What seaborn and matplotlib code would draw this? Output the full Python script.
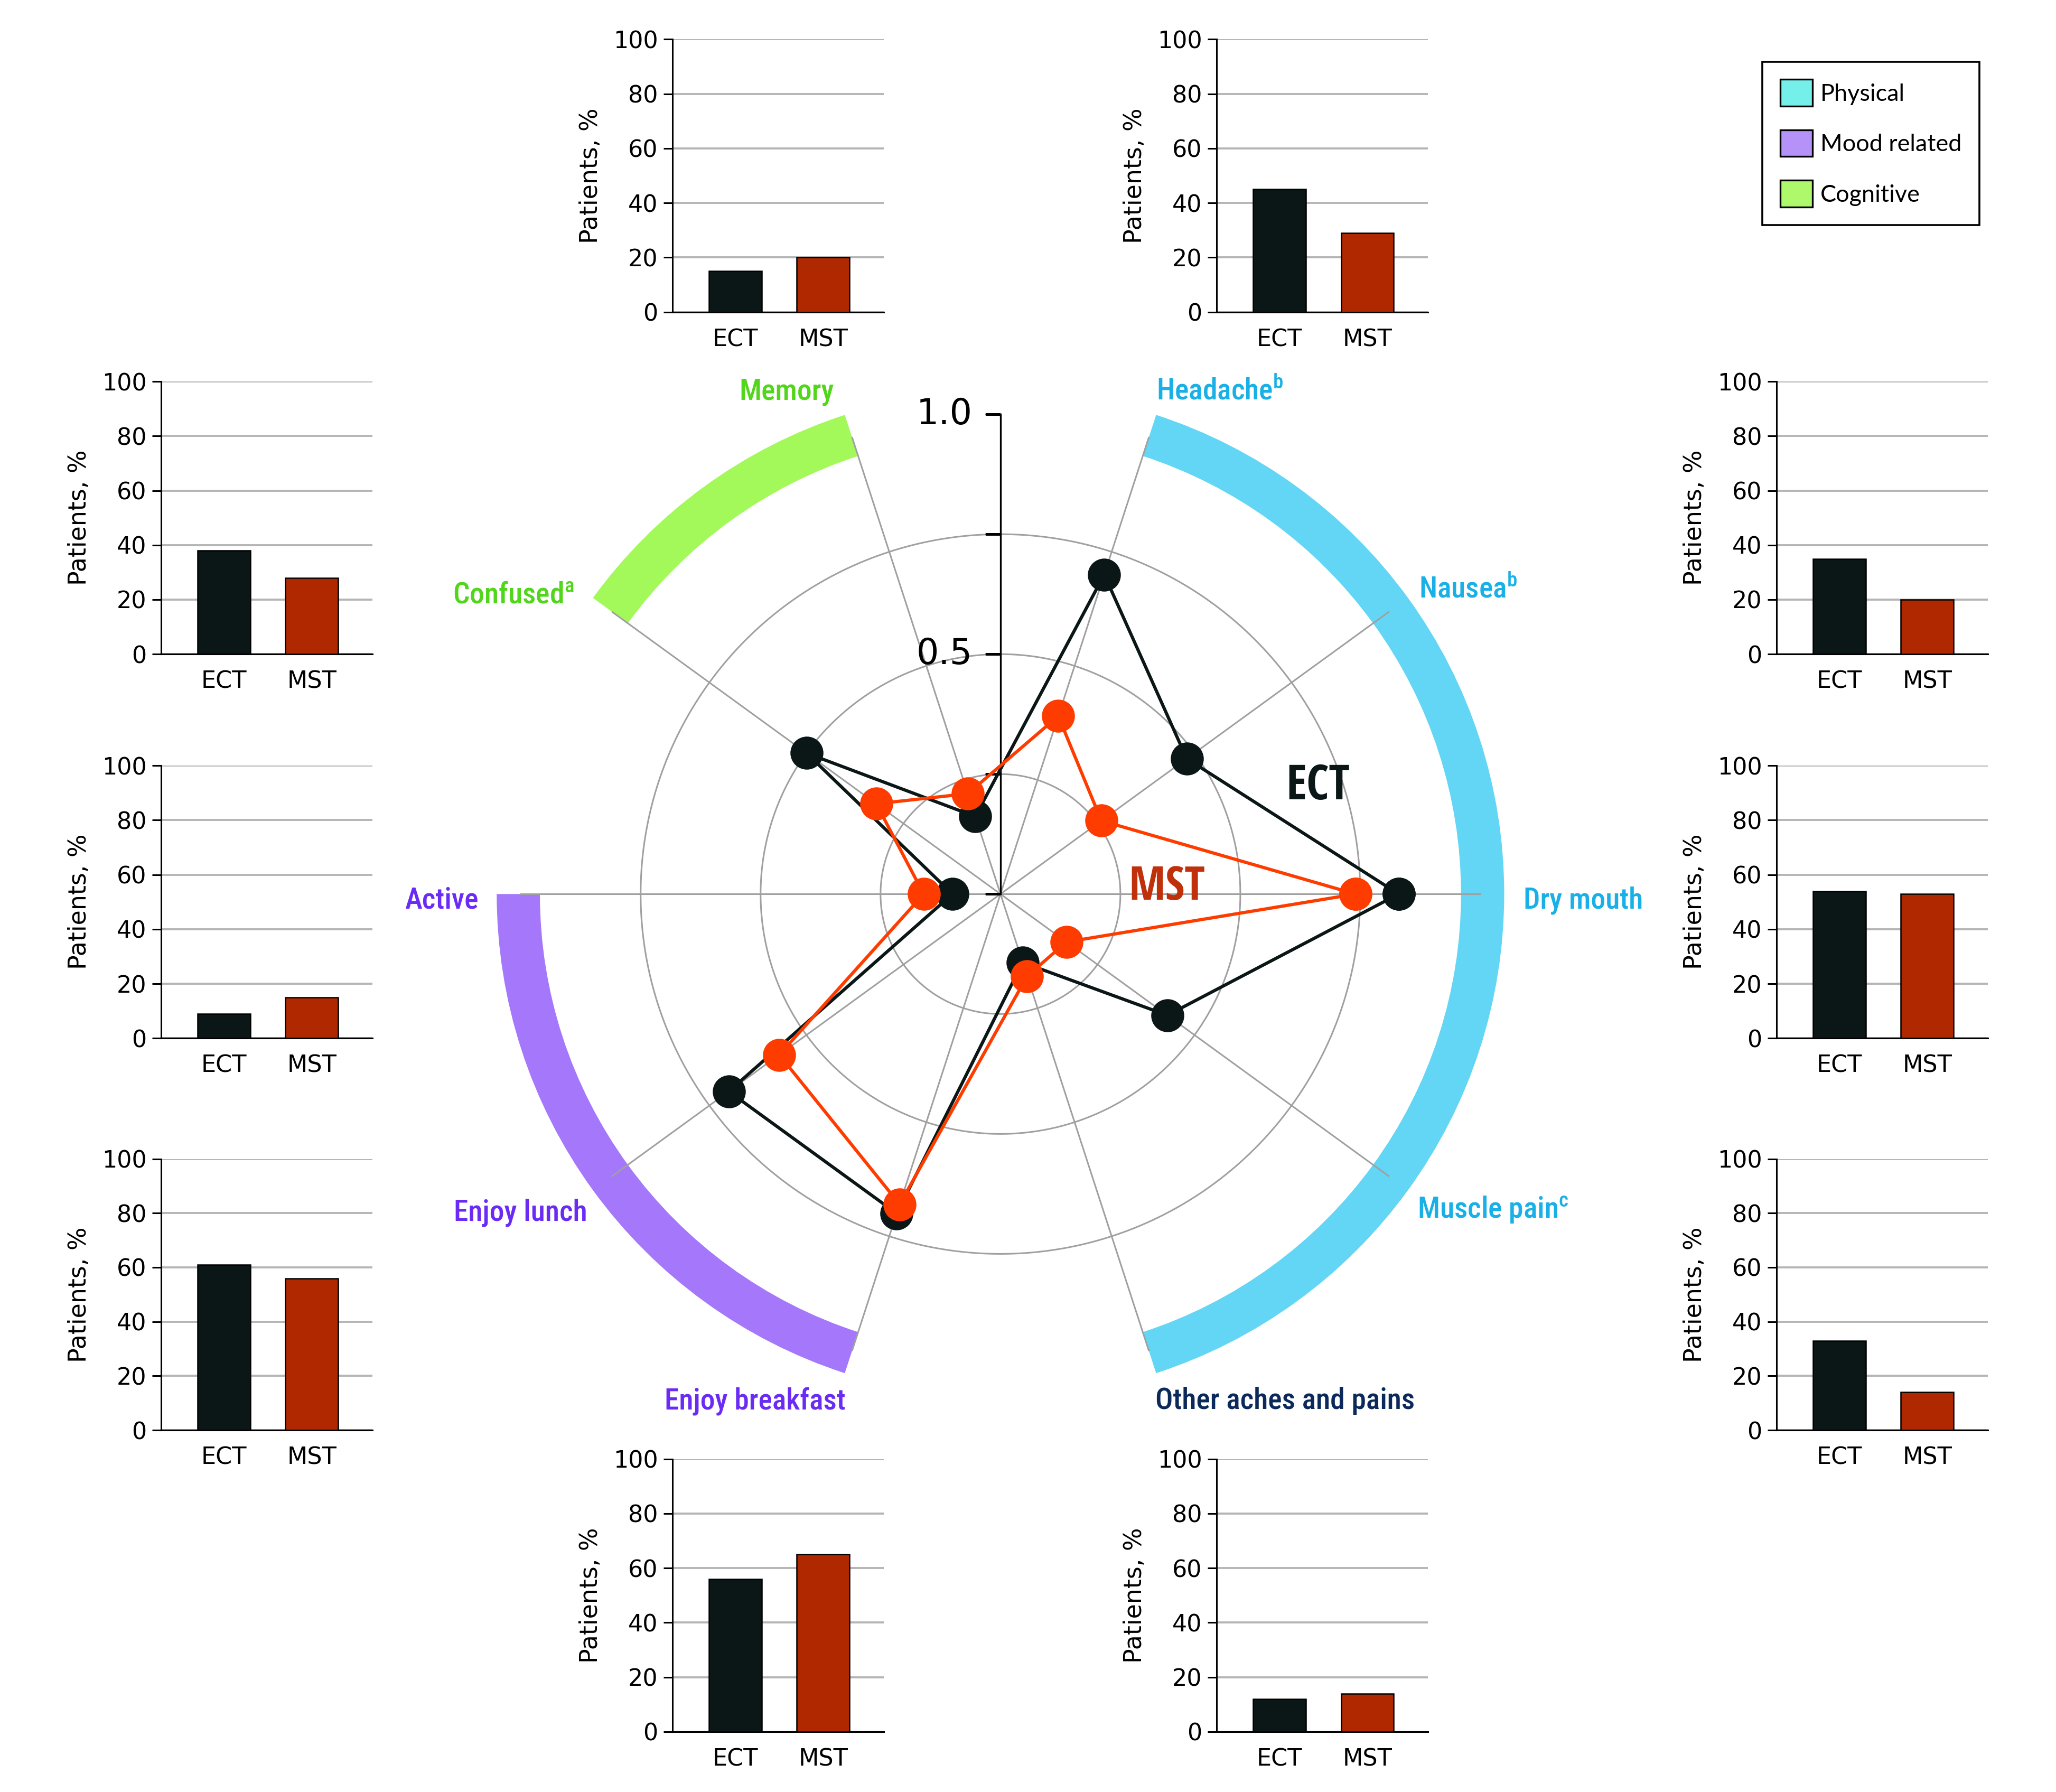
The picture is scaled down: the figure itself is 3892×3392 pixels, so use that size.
import numpy as np
import pandas as pd
import matplotlib
matplotlib.use("Agg")
import matplotlib.pyplot as plt
from matplotlib import font_manager
from matplotlib.font_manager import FontProperties
from matplotlib.patches import Patch
import matplotlib.markers as mmarkers
import seaborn as sns

# ---------------- data ----------------
categories = ["Dry mouth", "Nausea", "Headache", "Memory", "Confused", "Active",
              "Enjoy lunch", "Enjoy breakfast", "Other aches and pains", "Muscle pain"]
label_texts = ["Dry mouth", r"Nausea$^\mathregular{b}$", r"Headache$^\mathregular{b}$", "Memory",
               r"Confused$^\mathregular{a}$", "Active", "Enjoy lunch", "Enjoy breakfast",
               "Other aches and pains", r"Muscle pain$^\mathregular{c}$"]
domains = ["Physical", "Physical", "Physical", "Cognitive", "Cognitive", "Mood related",
           "Mood related", "Mood related", "Physical", "Physical"]
ect_radar = [0.83, 0.48, 0.70, 0.17, 0.50, 0.10, 0.70, 0.70, 0.15, 0.43]
mst_radar = [0.74, 0.26, 0.39, 0.22, 0.32, 0.16, 0.57, 0.68, 0.18, 0.17]
ect_pct = [54, 35, 45, 15, 38, 9, 61, 56, 12, 33]
mst_pct = [53, 20, 29, 20, 28, 15, 56, 65, 14, 14]
groups = ["ECT", "MST"]
legend_labels = ["Physical", "Mood related", "Cognitive"]
radial_ticks = [0, 0.25, 0.5, 0.75, 1.0]
radial_ticklabels = {0.5: "0.5", 1.0: "1.0"}
bar_yticks = [0, 20, 40, 60, 80, 100]

# ---------------- styles ----------------
ECT_COLOR = "#0a1716"
MST_LINE = "#ff3c00"
MST_BAR = "#b02800"
band_colors = {"Physical": "#62d6f4", "Mood related": "#a577fb", "Cognitive": "#a3f95a"}
legend_colors = {"Physical": "#74efe9", "Mood related": "#b592f8", "Cognitive": "#adf96b"}
label_colors = {"Physical": "#18b0e6", "Mood related": "#6a2cf5", "Cognitive": "#52d61c"}
OTHER_COLOR = "#0b2a5b"
GRAY = "#a0a0a0"

W, H = 1568.0, 1367.0   # reference layout units
DPI = 200


def pick_cond_font(weights):
    pref = ["Noto Sans", "Open Sans", "Roboto", "DejaVu Sans", "Liberation Sans Narrow", "Lato", "Inter"]
    best = None
    for f in font_manager.fontManager.ttflist:
        nm = f.name
        fn = f.fname.lower()
        st = f.stretch
        cond = ("condensed" in str(st)) or ("narrow" in nm.lower()) or ("condensed" in nm.lower()) \
            or ("condensed" in fn) or ("narrow" in fn) or (isinstance(st, (int, float)) and st <= 87)
        if not cond or f.style != "normal" or "italic" in fn:
            continue
        if "extra" in str(st) or "extra" in fn or "ultra" in fn or "semicondensed" in fn:
            continue
        w = f.weight
        if isinstance(w, str):
            w = font_manager.weight_dict.get(w, 400)
        if w not in weights:
            continue
        fam_rank = len(pref)
        for i, p in enumerate(pref):
            if nm.startswith(p) or p.replace(" ", "").lower() in fn.replace("-", "").replace("_", ""):
                fam_rank = i
                break
        score = (fam_rank, weights.index(w))
        if best is None or score < best[0]:
            best = (score, f.fname)
    return best[1] if best else None


f_med = pick_cond_font([500, 400])
f_bold = pick_cond_font([600, 500, 700])


def fp(fname, size, fallback_weight="normal"):
    if fname:
        return FontProperties(fname=fname, size=size)
    return FontProperties(family="Noto Sans", size=size, weight=fallback_weight, stretch="condensed")


fig = plt.figure(figsize=(3892 / DPI, 3392 / DPI), dpi=DPI)


def rect(l, t, r, b):
    return [l / W, 1 - b / H, (r - l) / W, (b - t) / H]


# ---------------- radar (polar) ----------------
cx, cy, R1, RMAX = 763.0, 682.0, 366.0, 1.07
n = len(categories)
theta = np.arange(n) * 2 * np.pi / n
axr = fig.add_axes(rect(cx - R1 * RMAX, cy - R1 * RMAX, cx + R1 * RMAX, cy + R1 * RMAX), projection="polar")
axr.patch.set_alpha(0)
axr.spines["polar"].set_visible(False)
axr.grid(False)

# group bands
band_spans = [("Physical", "Other aches and pains", "Headache"),
              ("Cognitive", "Memory", "Confused"),
              ("Mood related", "Active", "Enjoy breakfast")]
for dom, a, b in band_spans:
    t0 = theta[categories.index(a)]
    t1 = theta[categories.index(b)]
    span = (t1 - t0) % (2 * np.pi)
    axr.bar(t0 + span / 2, 0.09, width=span, bottom=0.96, color=band_colors[dom],
            linewidth=0, align="center", zorder=1)

# grid circles and spokes
tt = np.linspace(0, 2 * np.pi, 721)
for r in [0.25, 0.5, 0.75]:
    axr.plot(tt, np.full_like(tt, r), color=GRAY, lw=1.1, zorder=2)
for t in theta:
    axr.plot([t, t], [0, 1.0], color=GRAY, lw=1.1, zorder=2)

# radial axis
axr.plot([np.pi / 2, np.pi / 2], [0, 1.0], color="black", lw=1.2, zorder=3)
axr.plot(np.full(len(radial_ticks), np.pi / 2), radial_ticks, ls="none",
         marker=mmarkers.TICKLEFT, ms=10.5, mew=1.2, color="black", zorder=3)
for v, s in radial_ticklabels.items():
    axr.annotate(s, xy=(np.pi / 2, v), xytext=(-19, 0), textcoords="offset points",
                 ha="right", va="center", fontsize=24, family="DejaVu Sans", zorder=4)

# series
tc = np.append(theta, theta[0])
axr.plot(tc, np.append(ect_radar, ect_radar[0]), color=ECT_COLOR, lw=2.2, marker="o",
         ms=21.5, mfc=ECT_COLOR, mec=ECT_COLOR, zorder=5)
axr.plot(tc, np.append(mst_radar, mst_radar[0]), color=MST_LINE, lw=2.2, marker="o",
         ms=21.5, mfc=MST_LINE, mec=MST_LINE, zorder=6)
axr.set_xticks([])
axr.set_yticks([])
axr.set_ylim(0, RMAX)

fig.text(1005 / W, 1 - 600 / H, "ECT", color=ECT_COLOR, ha="center", va="center",
         fontproperties=fp(f_bold, 33, "semibold"))
fig.text(890 / W, 1 - 677 / H, "MST", color="#c0300a", ha="center", va="center",
         fontproperties=fp(f_bold, 32, "semibold"))

# category labels (x, baseline y, ha)
label_pos = {
    "Memory": (636, 305, "right"),
    "Headache": (882, 305, "left"),
    "Nausea": (1082, 456, "left"),
    "Dry mouth": (1162, 693, "left"),
    "Muscle pain": (1081, 929, "left"),
    "Other aches and pains": (881, 1075, "left"),
    "Enjoy breakfast": (645, 1075, "right"),
    "Enjoy lunch": (448, 931, "right"),
    "Active": (365, 693, "right"),
    "Confused": (438, 460, "right"),
}
for cat, txt, dom in zip(categories, label_texts, domains):
    x, y, ha = label_pos[cat]
    col = OTHER_COLOR if cat == "Other aches and pains" else label_colors[dom]
    fig.text(x / W, 1 - y / H, txt, color=col, ha=ha, va="baseline",
             fontproperties=fp(f_med, 20))

# ---------------- bar charts ----------------
bar_axes = {
    "Memory": (513, 30, 674, 238),
    "Headache": (928, 30, 1089, 238),
    "Confused": (123, 291, 284, 499),
    "Active": (123, 584, 284, 792),
    "Enjoy lunch": (123, 884, 284, 1091),
    "Enjoy breakfast": (513, 1113, 674, 1321),
    "Other aches and pains": (928, 1113, 1089, 1321),
    "Nausea": (1355, 291, 1516, 499),
    "Dry mouth": (1355, 584, 1516, 792),
    "Muscle pain": (1355, 884, 1516, 1091),
}
palette = {"ECT": ECT_COLOR, "MST": MST_BAR}
for i, cat in enumerate(categories):
    ax = fig.add_axes(rect(*bar_axes[cat]))
    df = pd.DataFrame({"group": groups, "pct": [ect_pct[i], mst_pct[i]]})
    sns.barplot(data=df, x="group", y="pct", hue="group", palette=palette, width=0.6,
                saturation=1, edgecolor="black", linewidth=0.9, legend=False, ax=ax, zorder=3)
    ax.set_xlim(-0.713, 1.689)
    ax.set_ylim(0, 100)
    ax.set_yticks(bar_yticks)
    ax.yaxis.grid(True, color="#b5b5b5", lw=1.4, zorder=0)
    ax.xaxis.grid(False)
    ax.set_axisbelow(True)
    for s in ["top", "right"]:
        ax.spines[s].set_visible(False)
    for s in ["left", "bottom"]:
        ax.spines[s].set_linewidth(1.1)
        ax.spines[s].set_color("black")
    ax.tick_params(axis="x", length=0, pad=11, labelsize=16)
    ax.tick_params(axis="y", length=6, width=1.1, pad=4, labelsize=16)
    ax.set_xlabel("")
    ax.set_ylabel("Patients, %", fontsize=16.5, labelpad=7)
    ax.set_facecolor("none")

# ---------------- legend ----------------
handles = [Patch(facecolor=legend_colors[l], edgecolor="black", linewidth=1.2, label=l)
           for l in legend_labels]
leg = fig.legend(handles=handles, loc="upper left", bbox_to_anchor=(1344 / W, 1 - 47 / H),
                 bbox_transform=fig.transFigure, frameon=True, fancybox=False, framealpha=1,
                 edgecolor="black", borderaxespad=0, borderpad=0.75, handlelength=1.35,
                 handleheight=1.35, handletextpad=0.35, labelspacing=1.0,
                 prop=FontProperties(family="Lato", size=16.2))
leg.get_frame().set_linewidth(1.3)

fig.savefig("out.png", dpi=DPI, facecolor="white")
